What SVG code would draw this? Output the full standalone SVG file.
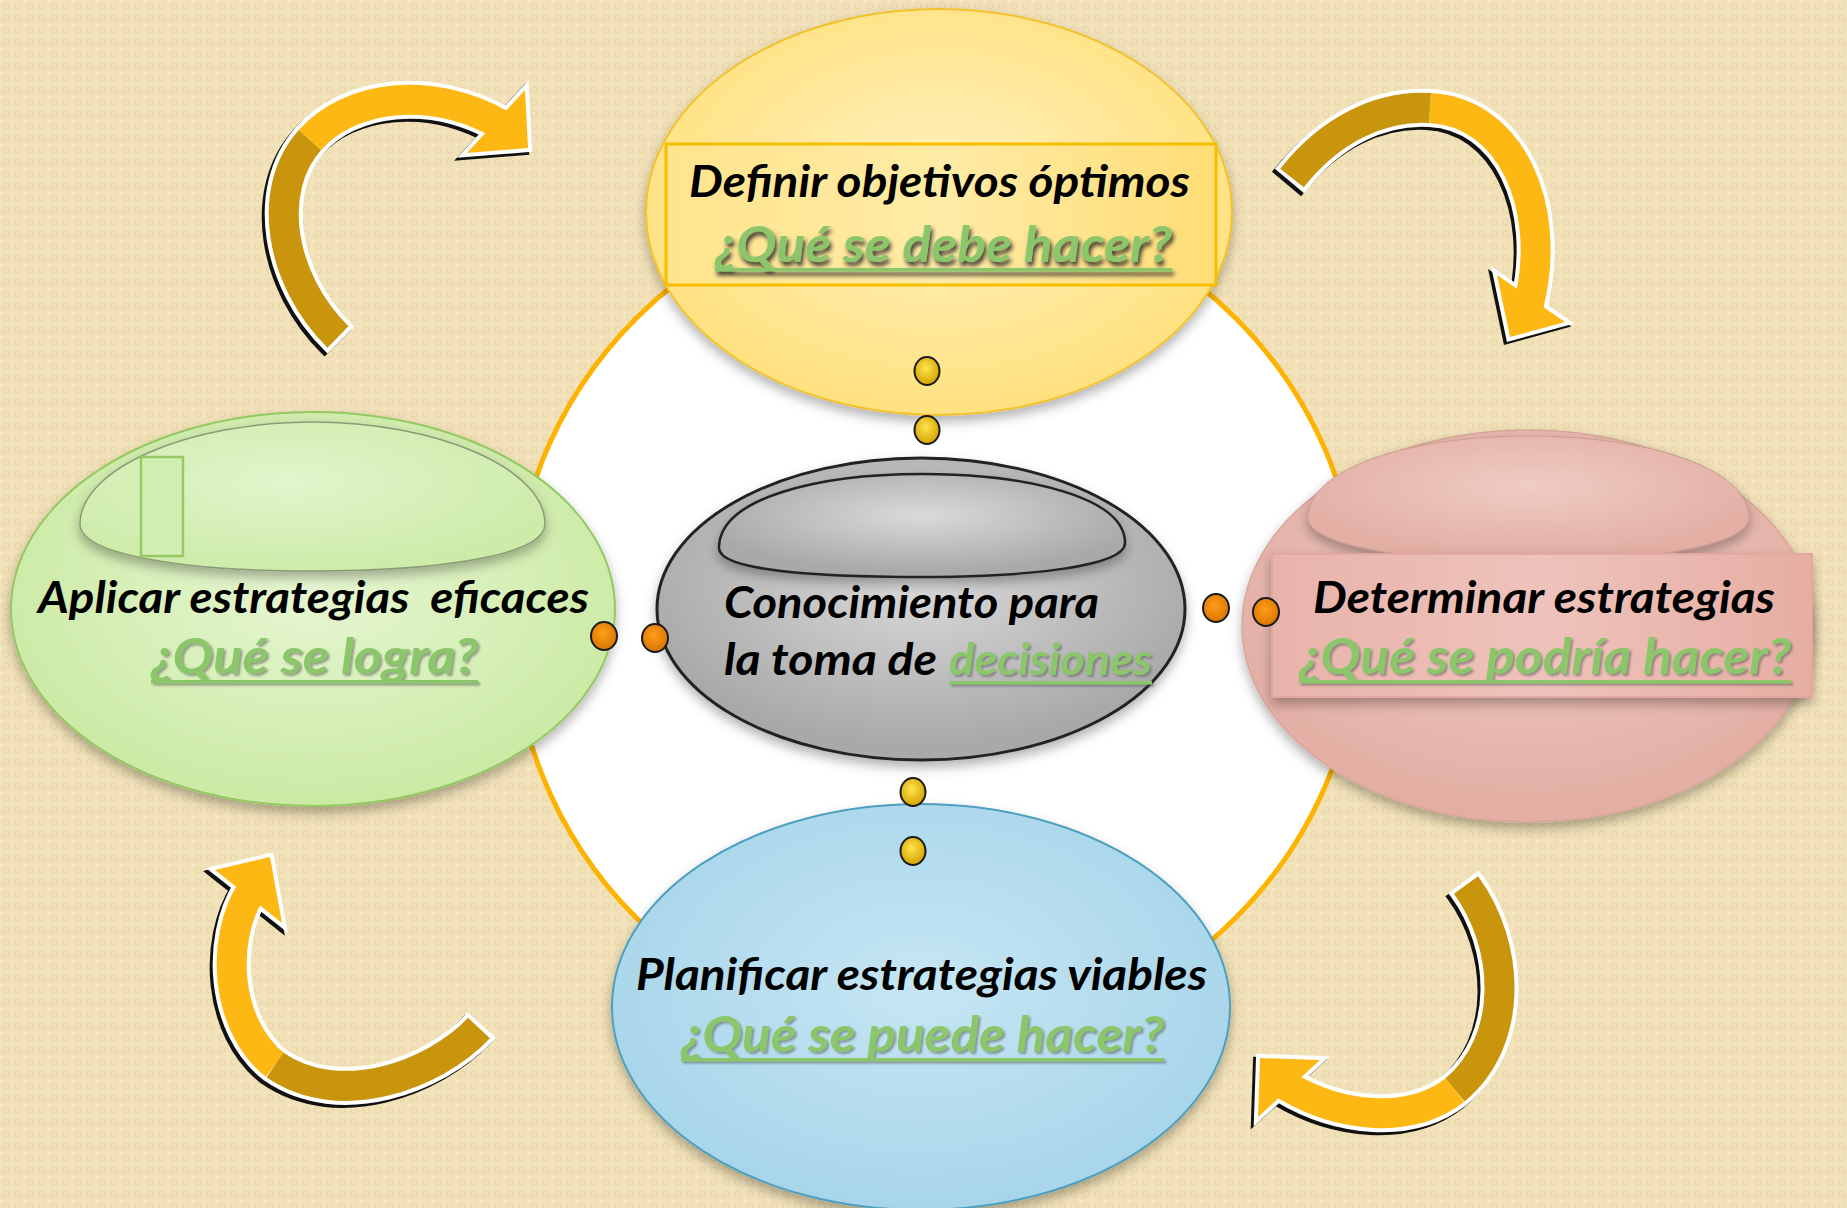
<svg xmlns="http://www.w3.org/2000/svg" width="1847" height="1208" viewBox="0 0 1847 1208">
<defs>
<pattern id="bgp" width="12" height="12" patternUnits="userSpaceOnUse">
<rect width="12" height="12" fill="#F2E2BA"/>
<circle cx="6" cy="6" r="3" fill="none" stroke="#EAD6A6" stroke-width="1.1"/>
<rect x="0" y="0" width="2" height="2" fill="#F6E9C8"/>
</pattern>
<radialGradient id="gY" cx="50%" cy="45%" r="55%"><stop offset="0" stop-color="#FFF1C2"/><stop offset="1" stop-color="#FFE17E"/></radialGradient>
<linearGradient id="gYr" x1="0" y1="0" x2="1" y2="0"><stop offset="0" stop-color="#FFE48C"/><stop offset="0.5" stop-color="#FFEBA6"/><stop offset="1" stop-color="#FFDD76"/></linearGradient>
<radialGradient id="gB" cx="50%" cy="45%" r="55%"><stop offset="0" stop-color="#C6E6F4"/><stop offset="1" stop-color="#A8D5EA"/></radialGradient>
<radialGradient id="gG" cx="50%" cy="45%" r="55%"><stop offset="0" stop-color="#E6F6D2"/><stop offset="1" stop-color="#CBEAA4"/></radialGradient>
<radialGradient id="gGi" cx="45%" cy="40%" r="60%"><stop offset="0" stop-color="#E2F5CC"/><stop offset="1" stop-color="#CDEBA9"/></radialGradient>
<radialGradient id="gP" cx="50%" cy="40%" r="55%"><stop offset="0" stop-color="#EFCCC3"/><stop offset="1" stop-color="#E3AFA5"/></radialGradient>
<linearGradient id="gPr" x1="0" y1="0" x2="1" y2="0"><stop offset="0" stop-color="#E8B3AA"/><stop offset="0.5" stop-color="#EEC3BB"/><stop offset="1" stop-color="#E6ADA3"/></linearGradient>
<radialGradient id="gGr" cx="50%" cy="40%" r="55%"><stop offset="0" stop-color="#DADADA"/><stop offset="1" stop-color="#A9A9A9"/></radialGradient>
<radialGradient id="dotY" cx="45%" cy="40%" r="60%"><stop offset="0" stop-color="#FFE34D"/><stop offset="1" stop-color="#D4A300"/></radialGradient>
<radialGradient id="dotO" cx="45%" cy="40%" r="60%"><stop offset="0" stop-color="#FF9E1A"/><stop offset="1" stop-color="#D87500"/></radialGradient>
<filter id="sh" x="-10%" y="-10%" width="120%" height="130%"><feDropShadow dx="0" dy="6" stdDeviation="6" flood-color="#000" flood-opacity="0.3"/></filter>
<filter id="tsh" x="-5%" y="-20%" width="110%" height="150%"><feDropShadow dx="2" dy="2" stdDeviation="0.8" flood-color="#555" flood-opacity="0.55"/></filter>
<filter id="tshd" x="-5%" y="-20%" width="110%" height="160%"><feDropShadow dx="2" dy="4" stdDeviation="2" flood-color="#1a1a1a" flood-opacity="0.85"/></filter>
<style>
.t{font-family:Lato,"Open Sans","Liberation Sans",sans-serif;font-weight:bold;font-style:italic;font-size:44px;fill:#000}
.q{font-family:Lato,"Open Sans","Liberation Sans",sans-serif;font-weight:bold;font-style:italic;font-size:50px;fill:#8CC66B}
.ul{fill:#8CC66B}
.dy{fill:url(#dotY);stroke:#1a1a1a;stroke-width:2}
.do{fill:url(#dotO);stroke:#1a1a1a;stroke-width:2}
.bk{fill:none;stroke:#111;stroke-width:38}
.wh{fill:none;stroke:#fff;stroke-width:38}
.dk{fill:none;stroke:#C9950C;stroke-width:30}
.br{fill:none;stroke:#FDB813;stroke-width:30}
.hbk{fill:#111;stroke:#111;stroke-width:8;stroke-linejoin:miter}
.hwh{fill:#fff;stroke:#fff;stroke-width:8;stroke-linejoin:miter}
.hbr{fill:#FDB813}
</style>
</defs>

<rect width="1847" height="1208" fill="url(#bgp)"/>

<g id="ring">
<circle cx="936" cy="618" r="424" fill="#FFFFFF" stroke="#FDB300" stroke-width="5"/>
</g>

<g id="connectors">
<g id="arrow-top-left">
<g transform="translate(-3,3)">
<path class="bk" d="M341,340 L338,337 C280,280 265,190 310,140 C350,95 430,85 500,124"/>
<polygon class="hbk" points="525,90 528,148 467,153"/>
</g>
<path class="wh" d="M341,340 L338,337 C280,280 265,190 310,140 C350,95 430,85 500,124"/>
<polygon class="hwh" points="525,90 528,148 467,153"/>
<path class="dk" d="M338,337 C280,280 265,190 310,140"/>
<path class="br" d="M310,140 C350,95 430,85 500,124"/>
<polygon class="hbr" points="525,90 528,148 467,153"/>
</g>

<g id="arrow-top-right">
<g transform="translate(-3,3)">
<path class="bk" d="M1289.5,181 L1292,178 C1330,130 1380,105 1430,108 C1510,112 1553,205 1529,304"/>
<polygon class="hbk" points="1497,275 1565,322 1510,337"/>
</g>
<path class="wh" d="M1289.5,181 L1292,178 C1330,130 1380,105 1430,108 C1510,112 1553,205 1529,304"/>
<polygon class="hwh" points="1497,275 1565,322 1510,337"/>
<path class="br" d="M1430,108 C1510,112 1553,205 1529,304"/>
<polygon class="hbr" points="1497,275 1565,322 1510,337"/>
<path class="dk" d="M1292,178 C1330,130 1380,105 1430,108"/>
</g>

<g id="arrow-bottom-right">
<g transform="translate(-3,3)">
<path class="bk" d="M1463.6,881.8 L1466,885 C1510,945 1515,1040 1455,1090 C1410,1125 1340,1118 1285,1085"/>
<polygon class="hbk" points="1320,1060 1258,1117 1260,1058"/>
</g>
<path class="wh" d="M1463.6,881.8 L1466,885 C1510,945 1515,1040 1455,1090 C1410,1125 1340,1118 1285,1085"/>
<polygon class="hwh" points="1320,1060 1258,1117 1260,1058"/>
<path class="dk" d="M1466,885 C1510,945 1515,1040 1455,1090"/>
<path class="br" d="M1455,1090 C1410,1125 1340,1118 1285,1085"/>
<polygon class="hbr" points="1320,1060 1258,1117 1260,1058"/>
</g>

<g id="arrow-bottom-left">
<g transform="translate(-3,3)">
<path class="bk" d="M481.7,1025 L479,1028 C435,1075 340,1110 275,1065 C225,1025 220,940 251,891"/>
<polygon class="hbk" points="215,870 282,923 270,857"/>
</g>
<path class="wh" d="M481.7,1025 L479,1028 C435,1075 340,1110 275,1065 C225,1025 220,940 251,891"/>
<polygon class="hwh" points="215,870 282,923 270,857"/>
<path class="br" d="M275,1065 C225,1025 220,940 251,891"/>
<polygon class="hbr" points="215,870 282,923 270,857"/>
<path class="dk" d="M479,1028 C435,1075 340,1110 275,1065"/>
</g>
</g>

<g id="node-definir">
<ellipse cx="939" cy="212" rx="293" ry="203" fill="url(#gY)" stroke="#F2C12E" stroke-width="2" filter="url(#sh)"/>
<rect x="666" y="144" width="550" height="141" fill="url(#gYr)" stroke="#F5BF00" stroke-width="3"/>
<text class="t" x="689" y="197" textLength="501" lengthAdjust="spacingAndGlyphs">Definir objetivos óptimos</text>
<g filter="url(#tshd)">
<text class="q" x="715" y="262" textLength="457" lengthAdjust="spacingAndGlyphs">¿Qué se debe hacer?</text>
<rect class="ul" x="715" y="268" width="457" height="3.5"/>
</g>
</g>

<g id="node-planificar">
<ellipse cx="921" cy="1007" rx="309" ry="203" fill="url(#gB)" stroke="#4E9FBF" stroke-width="2" filter="url(#sh)"/>
<text class="t" x="636" y="990" textLength="571" lengthAdjust="spacingAndGlyphs">Planificar estrategias viables</text>
<g filter="url(#tsh)">
<text class="q" x="681" y="1052" textLength="483" lengthAdjust="spacingAndGlyphs">¿Qué se puede hacer?</text>
<rect class="ul" x="681" y="1058" width="483" height="3.5"/>
</g>
</g>

<g id="node-aplicar">
<ellipse cx="313" cy="609" rx="302" ry="197" fill="url(#gG)" stroke="#93C862" stroke-width="2" filter="url(#sh)"/>
<path d="M80,524 C80,468 190,422 312,422 C436,422 545,468 545,524 C545,556 436,571 312,571 C190,571 80,556 80,524 Z" fill="url(#gGi)" stroke="#8A9A78" stroke-width="1.5" filter="url(#sh)"/>
<rect x="141" y="457" width="42" height="99" fill="#D3EEB2" stroke="#97C964" stroke-width="2.5"/>
<text class="t" x="38" y="613" textLength="551" lengthAdjust="spacingAndGlyphs" xml:space="preserve">Aplicar estrategias  eficaces</text>
<g filter="url(#tsh)">
<text class="q" x="151" y="674" textLength="327" lengthAdjust="spacingAndGlyphs">¿Qué se logra?</text>
<rect class="ul" x="151" y="680" width="327" height="3.5"/>
</g>
</g>

<g id="node-determinar">
<ellipse cx="1528" cy="626" rx="286" ry="196" fill="url(#gP)" stroke="#D9A69B" stroke-width="1.5" filter="url(#sh)"/>
<path d="M1308,518 C1308,468 1410,436 1528,436 C1648,436 1749,468 1749,518 C1749,545 1648,562 1528,562 C1410,562 1308,545 1308,518 Z" fill="url(#gP)" stroke="#C89A90" stroke-width="1" filter="url(#sh)"/>
<rect x="1272" y="554" width="540" height="143" fill="url(#gPr)" stroke="#E3A89F" stroke-width="2" filter="url(#sh)"/>
<text class="t" x="1313" y="613" textLength="462" lengthAdjust="spacingAndGlyphs">Determinar estrategias</text>
<g filter="url(#tsh)">
<text class="q" x="1299" y="674" textLength="492" lengthAdjust="spacingAndGlyphs">¿Qué se podría hacer?</text>
<rect class="ul" x="1299" y="680" width="492" height="3.5"/>
</g>
</g>

<g id="node-conocimiento">
<ellipse cx="921" cy="609" rx="264" ry="151" fill="url(#gGr)" stroke="#222" stroke-width="3" filter="url(#sh)"/>
<path d="M719,548 C719,498 818,474 922,474 C1030,474 1125,498 1125,543 C1125,566 1030,577 922,577 C812,577 719,570 719,548 Z" fill="url(#gGr)" stroke="#222" stroke-width="2.5" filter="url(#sh)"/>
<text class="t" x="724" y="618" textLength="375" lengthAdjust="spacingAndGlyphs">Conocimiento para</text>
<text class="t" x="724" y="675" textLength="213" lengthAdjust="spacingAndGlyphs">la toma de</text>
<g filter="url(#tsh)">
<text class="q" x="949" y="675" textLength="203" lengthAdjust="spacingAndGlyphs" style="font-size:44px">decisiones</text>
<rect class="ul" x="949" y="681" width="203" height="3.5"/>
</g>
</g>

<g id="connector-dots">
<ellipse class="dy" cx="927" cy="371" rx="12.5" ry="14"/>
<ellipse class="dy" cx="927" cy="430" rx="12.5" ry="14"/>
<ellipse class="dy" cx="913" cy="792" rx="12.5" ry="14"/>
<ellipse class="dy" cx="913" cy="851" rx="12.5" ry="14"/>
<ellipse class="do" cx="604" cy="636" rx="13" ry="14"/>
<ellipse class="do" cx="655" cy="638" rx="13" ry="14"/>
<ellipse class="do" cx="1216" cy="608" rx="13" ry="14"/>
<ellipse class="do" cx="1266" cy="612" rx="13" ry="14"/>
</g>
</svg>
